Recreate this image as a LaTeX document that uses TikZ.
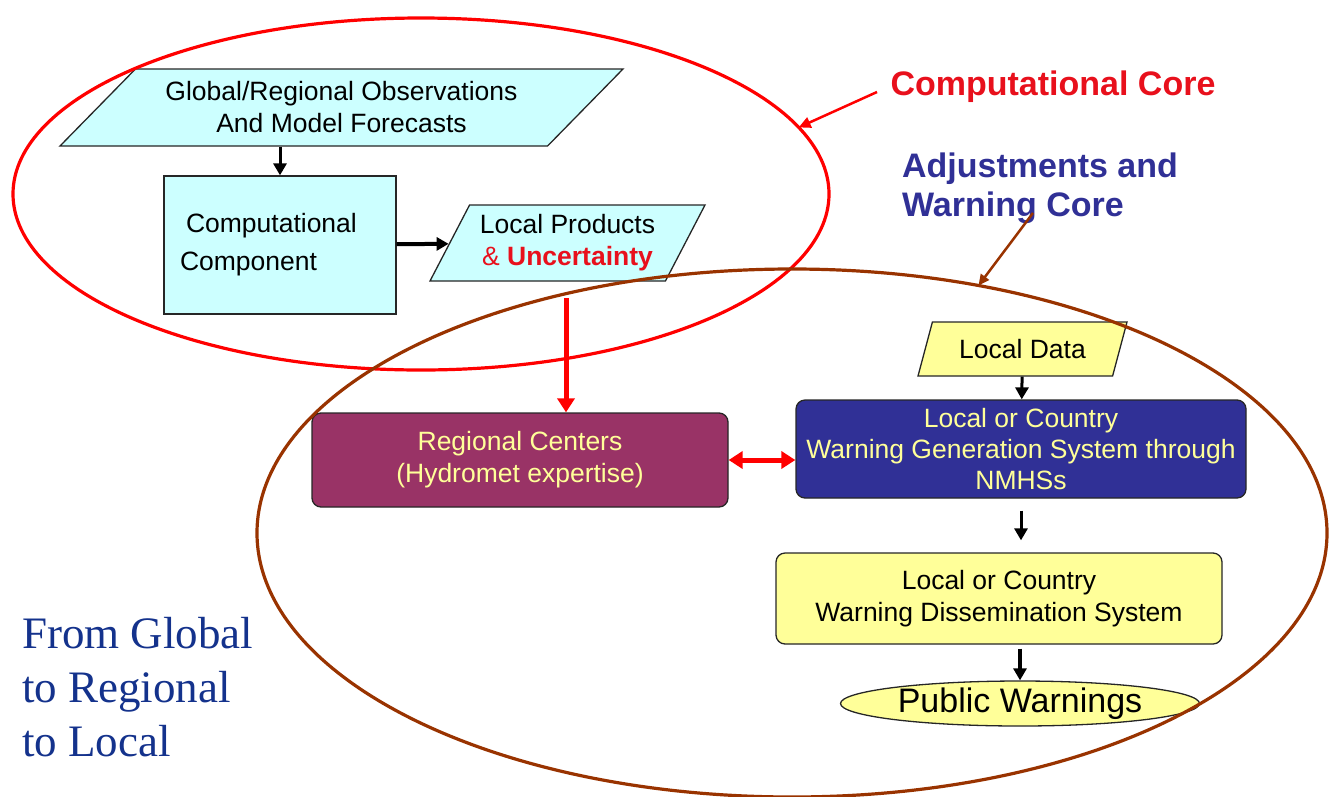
\documentclass[tikz,border=0pt]{standalone}
\usepackage{fontspec}
\setmainfont{Liberation Sans}
\newfontfamily\serifhead{Liberation Serif}
\usetikzlibrary{shapes.geometric,arrows.meta}
\definecolor{lcyan}{RGB}{204,255,255}
\definecolor{plum}{RGB}{153,51,102}
\definecolor{navy}{RGB}{48,48,150}
\definecolor{lyellow}{RGB}{255,255,153}
\definecolor{brownline}{RGB}{153,51,0}
\definecolor{leftblue}{RGB}{20,50,140}
\definecolor{corered}{RGB}{232,16,28}
\tikzset{
  txt/.style={font=\fontsize{26.5}{32}\selectfont,align=center},
  para/.style={txt,trapezium,trapezium stretches body,draw=black!85,line width=1.3pt,inner sep=0pt},
  rbox/.style={txt,draw=black!85,line width=1.3pt,rounded corners=9pt,inner sep=0pt},
  arr/.style={line width=3pt,-{Triangle[width=13pt,length=12pt]}},
  bigarr/.style={red,line width=5pt,-{Triangle[width=17pt,length=14pt]}},
  core/.style={ellipse,inner sep=0pt,outer sep=0pt,line width=3.2pt},
  head/.style={font=\bfseries\fontsize{34}{39}\selectfont,align=left}
}
\begin{document}
\begin{tikzpicture}[x=1pt,y=-1pt]
\useasboundingbox (0,0) rectangle (1330,796);
%computational part
\node[para,fill=lcyan,trapezium left angle=34.3,trapezium right angle=145.7,minimum width=563pt,minimum height=77pt] (obs) at (341.5,107.5) {Global/Regional Observations\\And Model Forecasts};
\node[txt,draw=black!85,line width=1.3pt,fill=lcyan,inner sep=0pt,minimum width=232pt,minimum height=138pt,text width=200pt,align=left,font=\fontsize{26.5}{38}\selectfont] (comp) at (280,245) {\hspace{6pt}Computational\\Component};
\node[para,fill=lcyan,trapezium left angle=55.1,trapezium right angle=124.9,minimum width=275pt,minimum height=76pt] (prod) at (567.5,243) {Local Products\\\textcolor{corered}{\& \bfseries Uncertainty}};
%warning part
\node[rbox,fill=plum,text=lyellow,minimum width=416pt,minimum height=94pt] (reg) at (520,460) {Regional Centers\\(Hydromet expertise)};
\node[para,fill=lyellow,trapezium left angle=53.5,trapezium right angle=126.5,minimum width=209pt,minimum height=54pt] (data) at (1022.5,349) {Local Data};
\node[rbox,fill=navy,text=lyellow,minimum width=450pt,minimum height=98pt,font=\fontsize{26.5}{31}\selectfont] (gen) at (1021,449) {Local or Country\\Warning Generation System through\\NMHSs};
\node[rbox,fill=lyellow,minimum width=446pt,minimum height=91pt] (dis) at (999,598.5) {Local or Country\\Warning Dissemination System};
\node[ellipse,draw=black!85,line width=1.3pt,fill=lyellow,inner sep=0pt,minimum width=359pt,minimum height=45pt,font=\fontsize{34}{40}\selectfont] (pub) at (1020,703.5) {Public Warnings};
%cores
\node[core,draw=red,minimum width=816pt,minimum height=352pt] (compcore) at (421,194) {};
\node[core,draw=brownline,minimum width=1070pt,minimum height=528pt] (warncore) at (792,533) {};
%labels
\node[head,text=corered] (cclabel) at (1053,87) {Computational Core};
\node[head,text=navy] (wclabel) at (1040,188) {Adjustments and\\Warning Core};
\node[font=\serifhead\fontsize{45}{54}\selectfont,text=leftblue,align=left,anchor=west,inner sep=0pt] (scale) at (22,687) {From Global\\to Regional\\to Local};
%arrows
\draw[arr] (obs.south -| comp.north) -- (comp.north);
\draw[arr,line width=4pt] (comp) -- (prod);
\coordinate (drop) at (566,298);
\draw[bigarr] (drop) -- (drop |- reg.north);
\draw[red,line width=5pt,{Triangle[width=17pt,length=14pt]}-{Triangle[width=17pt,length=14pt]}] (reg.east) -- (reg.east -| gen.west);
\draw[arr] (data) -- (gen);
\draw[arr,shorten <=12pt,shorten >=12pt] (gen.south) -- (gen.south |- dis.north);
\draw[arr,line width=4pt,shorten <=4pt] (pub.north |- dis.south) -- (pub.north);
\draw[red,line width=2.5pt,-{Triangle[width=11pt,length=12pt]}] ([xshift=-10pt,yshift=-5pt]cclabel.west) -- (compcore.10);
\draw[brownline,line width=2.5pt,-{Triangle[width=10pt,length=11pt]}] ([xshift=-7pt,yshift=14pt]wclabel.south) -- (warncore.53);
\end{tikzpicture}
\end{document}
